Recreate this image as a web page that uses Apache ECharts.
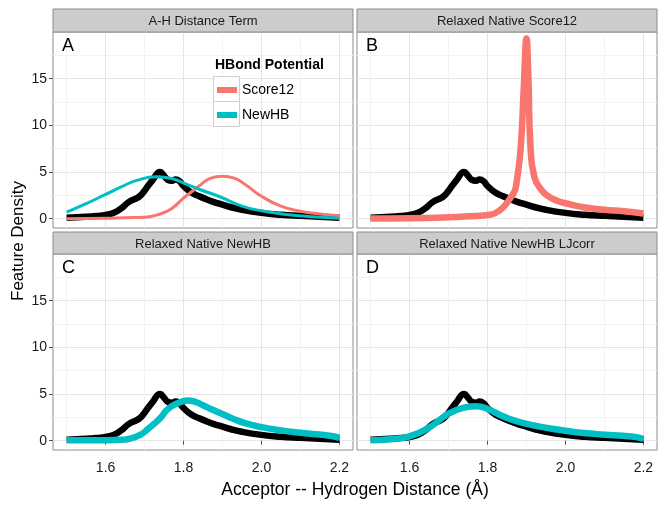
<!DOCTYPE html>
<html><head><meta charset="utf-8">
<script src="https://cdn.jsdelivr.net/npm/echarts@6/dist/echarts.min.js"></script>
<style>html,body{margin:0;padding:0;background:#fff}#c{width:667px;height:509px}</style>
</head><body><div id="c"></div>
<script>
const panelTitles = ['A-H Distance Term', 'Relaxed Native Score12', 'Relaxed Native NewHB', 'Relaxed Native NewHB LJcorr'];
const panelLetters = ['A', 'B', 'C', 'D'];
const xTicks = [1.6, 1.8, 2.0, 2.2];
const yTicks = [0, 5, 10, 15];
const legendTitle = 'HBond Potential';
const legendNames = ['Score12', 'NewHB'];

// Native (black) feature density, same in all panels
const nativeX = [1.50,1.55,1.58,1.60,1.62,1.64,1.66,1.68,1.69,1.70,1.72,1.74,1.75,1.76,1.77,1.78,1.79,1.80,1.82,1.84,1.86,1.88,1.90,1.92,1.95,2.00,2.05,2.10,2.15,2.20];
const nativeY = [0.1,0.2,0.3,0.4,0.6,1.1,1.8,2.2,2.5,3.0,4.1,5.0,4.6,4.15,4.05,4.2,4.0,3.5,2.8,2.4,2.05,1.75,1.5,1.25,0.95,0.62,0.42,0.3,0.2,0.1];

// Panel A: potential terms
const termScore12X = [1.50,1.60,1.65,1.70,1.74,1.77,1.80,1.84,1.87,1.90,1.93,1.96,2.00,2.05,2.10,2.15,2.20];
const termScore12Y = [0.0,0.05,0.1,0.15,0.5,1.1,2.2,3.5,4.35,4.55,4.35,3.6,2.4,1.35,0.8,0.5,0.3];
const termNewHBX = [1.50,1.55,1.60,1.64,1.68,1.73,1.77,1.81,1.84,1.89,1.95,2.00,2.07,2.13,2.20];
const termNewHBY = [0.7,1.6,2.6,3.4,4.1,4.5,4.3,3.65,3.15,2.4,1.35,0.85,0.43,0.2,0.05];

// Panel B: relaxed native Score12
const relScore12X = [1.50,1.60,1.70,1.75,1.80,1.82,1.84,1.86,1.87,1.875,1.885,1.893,1.90,1.905,1.91,1.92,1.94,1.96,1.98,2.00,2.05,2.10,2.15,2.20];
const relScore12Y = [0.02,0.05,0.15,0.25,0.4,0.6,1.2,2.3,3.0,4.0,7.5,14,19.3,15,8,4.5,3.0,2.3,1.9,1.65,1.2,0.95,0.8,0.55];

// Panel C: relaxed native NewHB
const relNewHBX = [1.50,1.60,1.64,1.66,1.69,1.71,1.74,1.76,1.79,1.81,1.83,1.85,1.87,1.90,1.93,1.96,2.00,2.05,2.10,2.15,2.18,2.20];
const relNewHBY = [0.05,0.05,0.1,0.2,0.65,1.3,2.4,3.4,4.1,4.3,4.15,3.8,3.4,2.85,2.3,1.85,1.45,1.1,0.85,0.65,0.5,0.3];

// Panel D: relaxed native NewHB LJcorr
const relLJX = [1.50,1.55,1.60,1.65,1.70,1.74,1.77,1.80,1.84,1.90,2.00,2.08,2.17,2.20];
const relLJY = [0.05,0.15,0.45,1.4,2.9,3.55,3.7,3.4,2.6,1.8,1.07,0.7,0.45,0.2];

const RED = '#F8766D', TEAL = '#00BFC4';
const zip = (xs, ys) => xs.map((x, i) => [x, ys[i]]);
const FONT = 'Liberation Sans, Arial, sans-serif';

const W = 300, H = 196;
const pos = [[53, 32], [357, 32], [53, 254], [357, 254]];

const grids = pos.map(p => ({left: p[0], top: p[1], width: W, height: H, show: true,
  backgroundColor: '#fff', borderColor: '#8c8c8c', borderWidth: 1, containLabel: false}));

const xAxes = pos.map((p, i) => ({
  type: 'value', gridIndex: i, min: 1.465, max: 2.235, splitNumber: 4,
  axisLine: {show: false},
  axisTick: {show: i >= 2, length: 4, lineStyle: {color: '#555'}, customValues: xTicks},
  axisLabel: {show: i >= 2, margin: 11, fontSize: 14, color: '#1a1a1a', fontFamily: FONT,
    customValues: xTicks, formatter: v => Number(v).toFixed(1)},
  splitLine: {show: true, lineStyle: {color: '#e5e5e5', width: 1}},
  minorTick: {show: false, splitNumber: 2},
  minorSplitLine: {show: true, lineStyle: {color: '#f3f3f3', width: 1}}
}));

const yAxes = pos.map((p, i) => ({
  type: 'value', gridIndex: i, min: -1, max: 20, splitNumber: 4,
  axisLine: {show: false},
  axisTick: {show: i % 2 === 0, length: 4, lineStyle: {color: '#555'}, customValues: yTicks},
  axisLabel: {show: i % 2 === 0, margin: 6, fontSize: 14, color: '#1a1a1a', fontFamily: FONT,
    customValues: yTicks, formatter: v => String(v)},
  splitLine: {show: true, lineStyle: {color: '#e5e5e5', width: 1}},
  minorTick: {show: false, splitNumber: 2},
  minorSplitLine: {show: true, lineStyle: {color: '#f3f3f3', width: 1}}
}));

function line(name, gi, xs, ys, color, width, z) {
  return {type: 'line', name, xAxisIndex: gi, yAxisIndex: gi, data: zip(xs, ys),
    showSymbol: false, smooth: 0.5, z: z || 2,
    lineStyle: {color, width, cap: 'butt', join: 'round'}, itemStyle: {color},
    emphasis: {disabled: true}, silent: true};
}

const series = [
  line('Native A', 0, nativeX, nativeY, '#000', 6.5, 2),
  line('Score12', 0, termScore12X, termScore12Y, RED, 3, 3),
  line('NewHB', 0, termNewHBX, termNewHBY, TEAL, 3, 3),
  line('Native B', 1, nativeX, nativeY, '#000', 6.5, 2),
  line('Relaxed Score12', 1, relScore12X, relScore12Y, RED, 6.5, 3),
  line('Native C', 2, nativeX, nativeY, '#000', 6.5, 2),
  line('Relaxed NewHB', 2, relNewHBX, relNewHBY, TEAL, 6.5, 3),
  line('Native D', 3, nativeX, nativeY, '#000', 6.5, 2),
  line('Relaxed NewHB LJcorr', 3, relLJX, relLJY, TEAL, 6.5, 3)
];

const graphics = [];
pos.forEach((p, i) => {
  const sy = i < 2 ? 9 : 232;
  graphics.push({type: 'rect', shape: {x: p[0], y: sy, width: W, height: p[1] - sy},
    style: {fill: '#cccccc', stroke: '#8c8c8c', lineWidth: 1}, z: 5, silent: true});
  graphics.push({type: 'text', x: p[0] + W / 2, y: sy + (p[1] - sy) / 2 + 1,
    style: {text: panelTitles[i], fill: '#1a1a1a', font: '13px ' + FONT, align: 'center', verticalAlign: 'middle'}, z: 6, silent: true});
  graphics.push({type: 'text', x: p[0] + 9, y: (i < 2 ? 46 : 268),
    style: {text: panelLetters[i], fill: '#000', font: '18px ' + FONT, align: 'left', verticalAlign: 'middle'}, z: 6, silent: true});
});
// legend title and key boxes
graphics.push({type: 'text', x: 215, y: 65, style: {text: legendTitle, fill: '#000', font: 'bold 14px ' + FONT, align: 'left', verticalAlign: 'middle'}, z: 6, silent: true});
graphics.push({type: 'rect', shape: {x: 213.5, y: 76.5, width: 26, height: 25}, style: {fill: '#fff', stroke: '#cfcfcf', lineWidth: 1}, z: 3, silent: true});
graphics.push({type: 'rect', shape: {x: 213.5, y: 101.5, width: 26, height: 25}, style: {fill: '#fff', stroke: '#cfcfcf', lineWidth: 1}, z: 3, silent: true});
// axis titles
graphics.push({type: 'text', x: 355, y: 490, style: {text: 'Acceptor -- Hydrogen Distance (Å)', fill: '#000', font: '17.5px ' + FONT, align: 'center', verticalAlign: 'middle'}, silent: true});
graphics.push({type: 'text', x: 18, y: 241, rotation: Math.PI / 2, style: {text: 'Feature Density', fill: '#000', font: '17px ' + FONT, align: 'center', verticalAlign: 'middle'}, silent: true});

const chart = echarts.init(document.getElementById('c'), null, {renderer: 'canvas'});
chart.setOption({
  animation: false,
  backgroundColor: '#fff',
  grid: grids, xAxis: xAxes, yAxis: yAxes, series,
  legend: {data: legendNames.map(n => ({name: n, icon: 'rect'})), orient: 'vertical', left: 212, top: 77,
    itemWidth: 20, itemHeight: 6, itemGap: 9, selectedMode: false, z: 6,
    textStyle: {fontSize: 14, lineHeight: 16, color: '#000', fontFamily: FONT}},
  graphic: graphics
});
</script></body></html>
